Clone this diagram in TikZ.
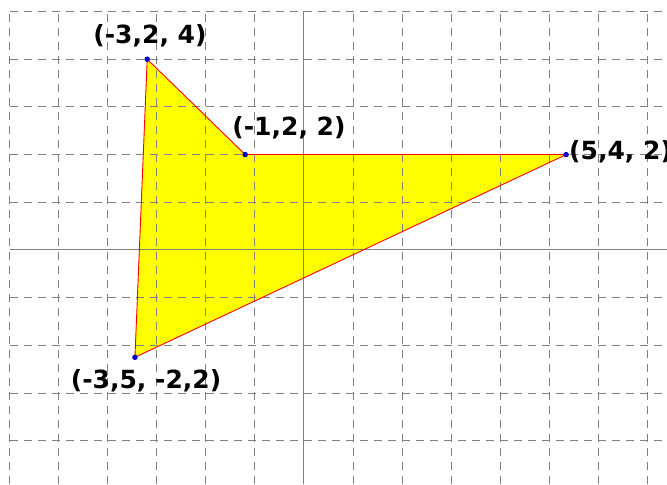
\documentclass[tikz,border=0pt]{standalone}
\usepackage{fontspec}
\setmainfont{DejaVu Sans}
\usepackage{xcolor}
\usepackage{tikz}
\definecolor{facey}{RGB}{255,255,0}
\definecolor{edger}{RGB}{255,0,0}
\definecolor{gridg}{RGB}{128,128,128}
\definecolor{dotb}{RGB}{0,0,200}

\begin{document}
\begin{tikzpicture}[x=49pt,y=47.7pt]
\tikzset{
  gd/.style={draw=gridg,line width=1pt,dash pattern=on 8pt off 6pt},
  ax/.style={draw=gridg,line width=1pt},
  tri/.style={draw=edger,line width=0.9pt,line join=round},
  pt/.style={circle,fill=dotb,inner sep=0pt,minimum size=5.5pt},
  lb/.style={inner sep=0pt,font=\bfseries\fontsize{25}{28}\selectfont,text=black}
}
\clip (-6.204,-4.906) rectangle (7.408,5.241);
\fill[white] (-6.204,-4.906) rectangle (7.408,5.241);
\coordinate (a) at (-3.2,4);
\coordinate (b) at (-1.2,2);
\coordinate (c) at (5.35,2);
\coordinate (d) at (-3.45,-2.25);
% yellow face
\fill[facey] (a) -- (b) -- (c) -- (d) -- cycle;
% grid and axes
\draw[gd,step=1] (-6,-4.906) grid (7.408,5);
\draw[ax] (-6,0) -- (7.408,0);
\draw[ax] (0,-4.906) -- (0,5);
% edges
\draw[tri] (a) -- (b); \draw[tri] (b) -- (c);
\draw[tri] (c) -- (d); \draw[tri] (d) -- (a);
\node[pt] (pa) at (a) {};
\node[pt] (pb) at (b) {};
\node[pt] (pc) at (c) {};
\node[pt] (pd) at (d) {};
\node[lb] (la) at (-3.143,4.486) {(-3,2, 4)};
\node[lb] (lb) at (-0.306,2.558) {(-1,2, 2)};
\node[lb,anchor=west] (lc) at (5.408,2.055) {(5,4, 2)};
\node[lb] (ld) at (-3.224,-2.746) {(-3,5, -2,2)};
\end{tikzpicture}
\end{document}
